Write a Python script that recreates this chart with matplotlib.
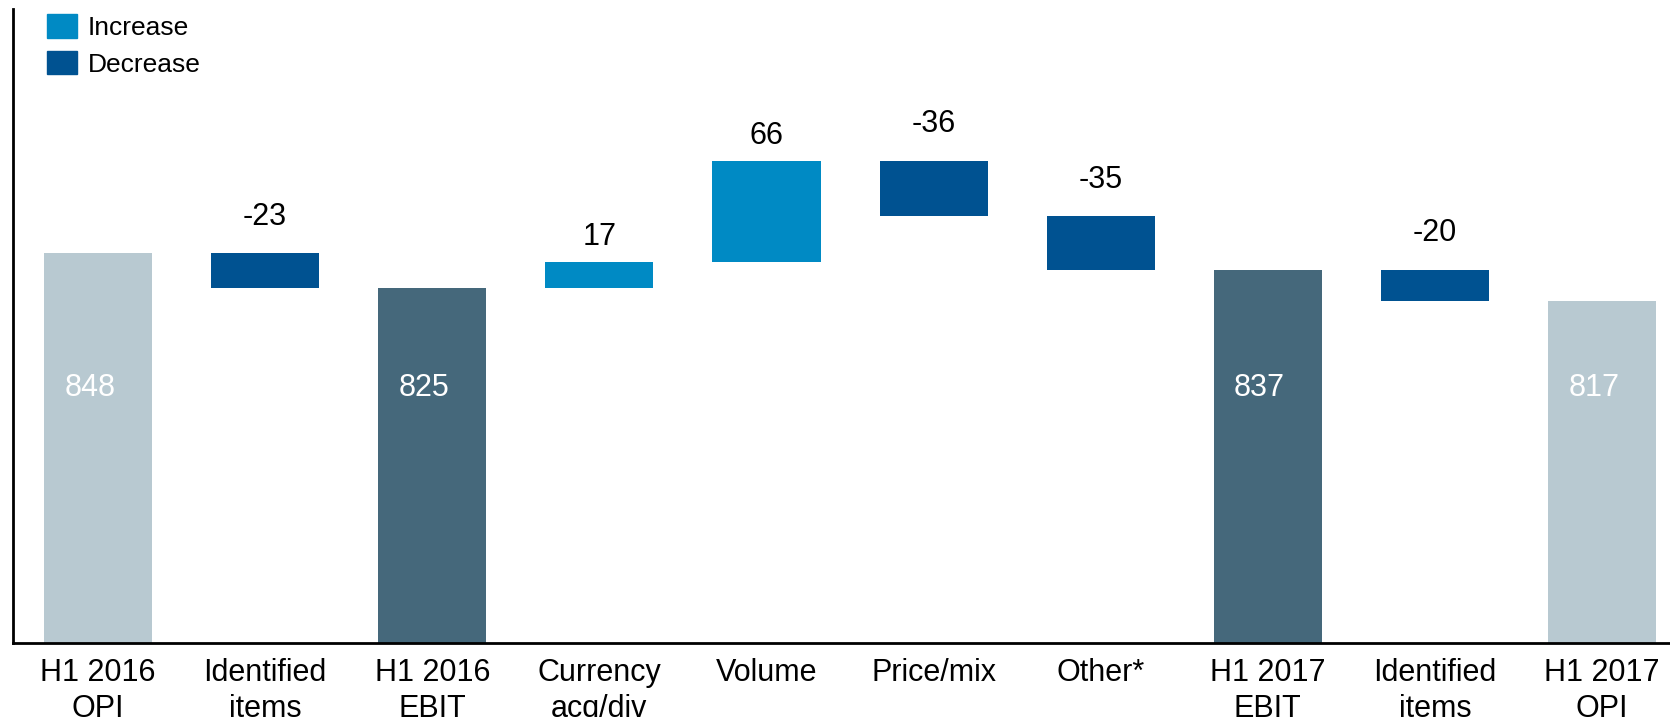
import matplotlib
matplotlib.use("Agg")
import matplotlib.pyplot as plt
from matplotlib.patches import Patch

plt.rcParams["font.family"] = ["Liberation Sans", "DejaVu Sans"]

categories = ["H1 2016\nOPI", "Identified\nitems", "H1 2016\nEBIT", "Currency\nacq/div",
              "Volume", "Price/mix", "Other*", "H1 2017\nEBIT", "Identified\nitems", "H1 2017\nOPI"]
values = [848, -23, 825, 17, 66, -36, -35, 837, -20, 817]
kinds = ["opi", "delta", "ebit", "delta", "delta", "delta", "delta", "ebit", "delta", "opi"]

c_inc = "#008AC4"
c_dec = "#005291"
c_ebit = "#45687B"
c_opi = "#B8C9D1"

y_min, y_max = 594, 1007

fig = plt.figure(figsize=(16.7, 7.17), dpi=100)
ax = fig.add_axes([13 / 1670, 74 / 717, 1 - 13 / 1670, (643 - 9) / 717])

level = 0
for i, (v, k) in enumerate(zip(values, kinds)):
    if k == "delta":
        start = level
        level = level + v
        lo, hi = min(start, level), max(start, level)
        col = c_inc if v > 0 else c_dec
        ax.bar(i, hi - lo, bottom=lo, width=0.647, color=col, zorder=2)
        off = 7.5 if v > 0 else 15.5
        ax.annotate(f"{v}", (i, hi), xytext=(0, off), textcoords="offset points",
                    ha="center", va="bottom", fontsize=22, color="black")
    else:
        level = v
        col = c_ebit if k == "ebit" else c_opi
        ax.bar(i, v - y_min, bottom=y_min, width=0.647, color=col, zorder=2)
        ax.text(i - 0.05, 760, f"{v}", ha="center", va="center", fontsize=22, color="white")

ax.set_xlim(-0.509, 9.407)
ax.set_ylim(y_min, y_max)
ax.set_xticks(range(len(categories)))
ax.set_xticklabels(categories, fontsize=22, linespacing=1.27)
ax.tick_params(axis="x", length=0, pad=10.5)
ax.set_yticks([])
for s in ["top", "right"]:
    ax.spines[s].set_visible(False)
for s in ["left", "bottom"]:
    ax.spines[s].set_linewidth(2)
    ax.spines[s].set_color("black")

handles = [Patch(color=c_inc, label="Increase"), Patch(color=c_dec, label="Decrease")]
fig.legend(handles=handles, loc="upper left", bbox_to_anchor=(29 / 1670, 1 + 4 / 717),
           frameon=False, fontsize=19, handlelength=1.12, handleheight=1.0,
           handletextpad=0.4, labelspacing=0.4, borderpad=0.2)

fig.savefig("out.png", dpi=100)
